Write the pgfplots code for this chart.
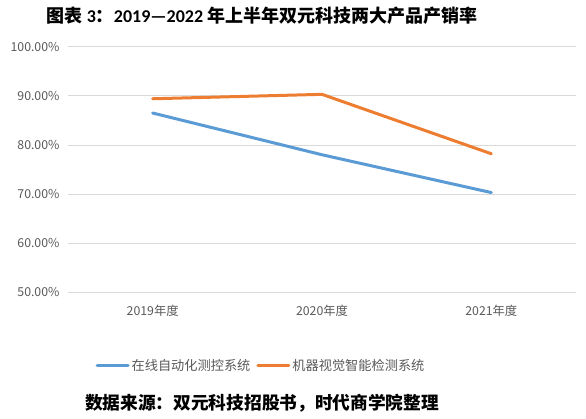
\documentclass[border=0pt]{standalone}
\usepackage{fontspec}
\usepackage{pgfplots}
\pgfplotsset{compat=1.18}
\setmainfont{Noto Sans CJK SC}
\newfontfamily\carl{Carlito}
\definecolor{cblue}{HTML}{5B9BD5}
\definecolor{corange}{HTML}{ED7D31}
\definecolor{tgray}{HTML}{595959}
\definecolor{ggray}{HTML}{D9D9D9}
\begin{document}
\begin{tikzpicture}
\path[use as bounding box] (0,0) rectangle (586bp,419bp);
\begin{axis}[
  at={(68bp,126.7bp)}, anchor=south west,
  scale only axis, width=508bp, height=245.6bp,
  xmin=-0.5, xmax=2.5, ymin=50, ymax=100,
  axis line style={draw=none},
  xtick={0,1,2}, xticklabels={2019年度,2020年度,2021年度},
  ytick={50,60,70,80,90,100},
  yticklabels={50.00\%,60.00\%,70.00\%,80.00\%,90.00\%,100.00\%},
  ymajorgrids, grid style={ggray, line width=0.8pt},
  major tick length=0pt,
  tick label style={font=\fontsize{12.3bp}{14bp}\selectfont, text=tgray},
  yticklabel style={xshift=-5bp},
  xticklabel style={yshift=-9bp},
  legend columns=2,
  legend style={at={(0.38,-0.30)}, anchor=center, draw=none, fill=none,
    font=\fontsize{13.2bp}{15bp}\selectfont, text=tgray,
    /tikz/every even column/.append style={column sep=4bp},
    inner sep=0pt},
  legend image code/.code={\draw[#1, line width=3bp] (0bp,0bp) -- (31bp,0bp);},
  every axis plot/.append style={line width=3bp, line cap=round, line join=round},
  clip=false,
]
\addplot[cblue, mark=none] coordinates {(0,86.5) (1,78.0) (2,70.3)};
\addlegendentry{在线自动化测控系统}
\addplot[corange, mark=none] coordinates {(0,89.4) (1,90.3) (2,78.2)};
\addlegendentry{机器视觉智能检测系统}
\end{axis}
\node[font=\fontsize{18bp}{20bp}\selectfont\bfseries] at (262bp,403bp) {图表 {\carl\bfseries 3}：{\carl\bfseries 2019—2022} 年上半年双元科技两大产品产销率};
\node[font=\fontsize{17.7bp}{20bp}\selectfont\bfseries] at (262bp,16bp) {数据来源：双元科技招股书，时代商学院整理};
\end{tikzpicture}
\end{document}
